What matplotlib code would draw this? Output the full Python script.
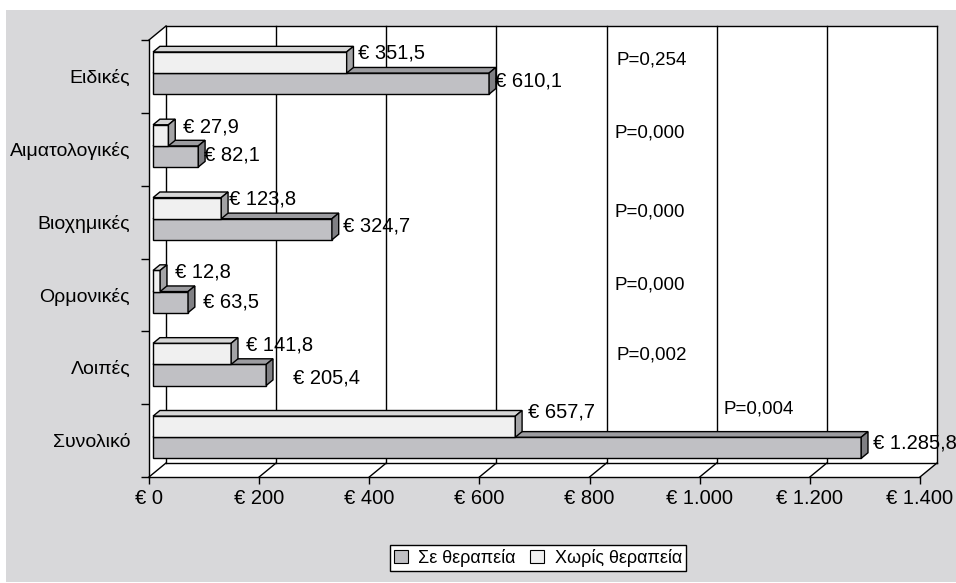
"""
Κόστος εξετάσεων ανά κατηγορία: με και χωρίς θεραπεία (Excel-style 3D bars).
"""

import numpy as np
import matplotlib.pyplot as plt
from matplotlib.patches import Polygon, Rectangle, Patch

plt.rcParams['font.family'] = ['Liberation Sans', 'DejaVu Sans']

# --- data -----------------------------------------------------------------
categories = ["Ειδικές", "Αιματολογικές", "Βιοχημικές", "Ορμονικές", "Λοιπές", "Συνολικό"]
with_therapy = [610.1, 82.1, 324.7, 63.5, 205.4, 1285.8]
without_therapy = [351.5, 27.9, 123.8, 12.8, 141.8, 657.7]
with_labels = ["€ 610,1", "€ 82,1", "€ 324,7", "€ 63,5", "€ 205,4", "€ 1.285,8"]
without_labels = ["€ 351,5", "€ 27,9", "€ 123,8", "€ 12,8", "€ 141,8", "€ 657,7"]
p_values = ["P=0,254", "P=0,000", "P=0,000", "P=0,000", "P=0,002", "P=0,004"]
x_ticks = [0, 200, 400, 600, 800, 1000, 1200, 1400]
x_tick_labels = ["€ 0", "€ 200", "€ 400", "€ 600", "€ 800", "€ 1.000", "€ 1.200", "€ 1.400"]
series_names = ["Σε θεραπεία", "Χωρίς θεραπεία"]

# --- label placement (pixels, relative to bar end / category) -------------
light_off = [(11, 9.5), (15, 8), (8, 9), (15, 9), (15, 9), (13, 14.5)]
grey_off = [(6, 2.5), (6, 1), (11, 3), (15, 0), (27, -3), (12, 4.5)]
p_pos = [(848, 16), (845, 16), (845, 10), (845, 10), (848, 12.6), (1043, 31.5)]

# --- styles -----------------------------------------------------------------
BG = '#d8d8da'
LIGHT = ('#f0f0f0', '#d6d6d6', '#a4a4a6')   # front, top, side
GREY = ('#c0c0c4', '#9c9ca0', '#808084')
FS = 14.5
XMAX = 1400
n = len(categories)

W, H = 956, 583
fig = plt.figure(figsize=(W / 100, H / 100), dpi=100)
fig.patch.set_facecolor('white')
fig.patches.append(Rectangle((6 / W, 1 / H), 950 / W, 572 / H, transform=fig.transFigure,
                             facecolor=BG, edgecolor='none', zorder=-10))

ax = fig.add_axes([149 / W, 1 - 477 / H, 771 / W, 437 / H])
ax.set_xlim(0, XMAX)
ax.set_ylim(-0.5, n - 0.5)
ax.patch.set_visible(False)
for s in ax.spines.values():
    s.set_visible(False)

# depth vector of the box in data units (17 px right, 14 px up)
DX = 17 * XMAX / 771
DY = 14 * n / 437
lw = 1.0


def pt(x, y, f):
    return (x + f * DX, y + f * DY)


def line(p, q, **kw):
    ax.plot([p[0], q[0]], [p[1], q[1]], color='black', lw=lw, clip_on=False,
            solid_capstyle='projecting', **kw)


y_lo, y_hi = -0.5, n - 0.5

# white interior of the box
hexagon = [pt(0, y_lo, 0), pt(0, y_hi, 0), pt(0, y_hi, 1), pt(XMAX, y_hi, 1),
           pt(XMAX, y_lo, 1), pt(XMAX, y_lo, 0)]
ax.add_patch(Polygon(hexagon, closed=True, facecolor='white', edgecolor='none',
                     clip_on=False, zorder=0))

# back wall and floor
for xv in x_ticks:
    line(pt(xv, y_lo, 1), pt(xv, y_hi, 1), zorder=1)
    line(pt(xv, y_lo, 0), pt(xv, y_lo, 1), zorder=1)
line(pt(0, y_hi, 1), pt(XMAX, y_hi, 1), zorder=1)
line(pt(0, y_lo, 1), pt(XMAX, y_lo, 1), zorder=1)
line(pt(0, y_lo, 0), pt(XMAX, y_lo, 0), zorder=1)
line(pt(0, y_lo, 0), pt(0, y_hi, 0), zorder=1)
line(pt(0, y_hi, 0), pt(0, y_hi, 1), zorder=1)

F0, F1 = 0.24, 0.64
BH = 0.29


def bar3d(y0, y1, v, cols):
    faces = [
        ([pt(0, y0, F0), pt(v, y0, F0), pt(v, y1, F0), pt(0, y1, F0)], cols[0]),
        ([pt(0, y1, F0), pt(v, y1, F0), pt(v, y1, F1), pt(0, y1, F1)], cols[1]),
        ([pt(v, y0, F0), pt(v, y1, F0), pt(v, y1, F1), pt(v, y0, F1)], cols[2]),
    ]
    for verts, c in faces:
        ax.add_patch(Polygon(verts, closed=True, facecolor=c, edgecolor='black',
                             lw=lw, joinstyle='miter', clip_on=False, zorder=3))


for i, cat in enumerate(categories):
    yc = n - 1 - i
    bar3d(yc - BH, yc, with_therapy[i], GREY)
    bar3d(yc, yc + BH, without_therapy[i], LIGHT)

    ax.annotate(without_labels[i], xy=pt(without_therapy[i], yc + BH / 2, F0),
                xytext=light_off[i], textcoords='offset pixels',
                ha='left', va='center', fontsize=FS, zorder=5, annotation_clip=False)
    ax.annotate(with_labels[i], xy=pt(with_therapy[i], yc - BH / 2, F0),
                xytext=grey_off[i], textcoords='offset pixels',
                ha='left', va='center', fontsize=FS, zorder=5, annotation_clip=False)
    px, pdy = p_pos[i]
    ax.annotate(p_values[i], xy=(px, yc), xytext=(0, pdy), textcoords='offset pixels',
                ha='left', va='center', fontsize=13.5, zorder=5, annotation_clip=False)

# axes ticks
ax.set_xticks(x_ticks)
ax.set_xticklabels(x_tick_labels, fontsize=FS)
ax.tick_params(axis='x', direction='out', length=4.8, width=1.0, pad=4)
ax.set_yticks(range(n))
ax.set_yticklabels(categories[::-1], fontsize=14)
ax.set_yticks(np.arange(-0.5, n, 1.0), minor=True)
ax.tick_params(axis='y', which='major', length=0, pad=13.5)
ax.tick_params(axis='y', which='minor', direction='out', length=5.8, width=1.0)

handles = [Patch(facecolor=GREY[0], edgecolor='black', lw=0.8),
           Patch(facecolor=LIGHT[0], edgecolor='black', lw=0.8)]
leg = fig.legend(handles, series_names, loc='center', bbox_to_anchor=(538 / W, 1 - 558 / H),
                 ncol=2, fontsize=13, frameon=True, fancybox=False, framealpha=1,
                 edgecolor='black', handlelength=0.75, handleheight=0.75,
                 handletextpad=0.6, columnspacing=0.8, borderpad=0.2, borderaxespad=0)
leg.get_frame().set_linewidth(1.0)

fig.savefig('out.png', dpi=100)
